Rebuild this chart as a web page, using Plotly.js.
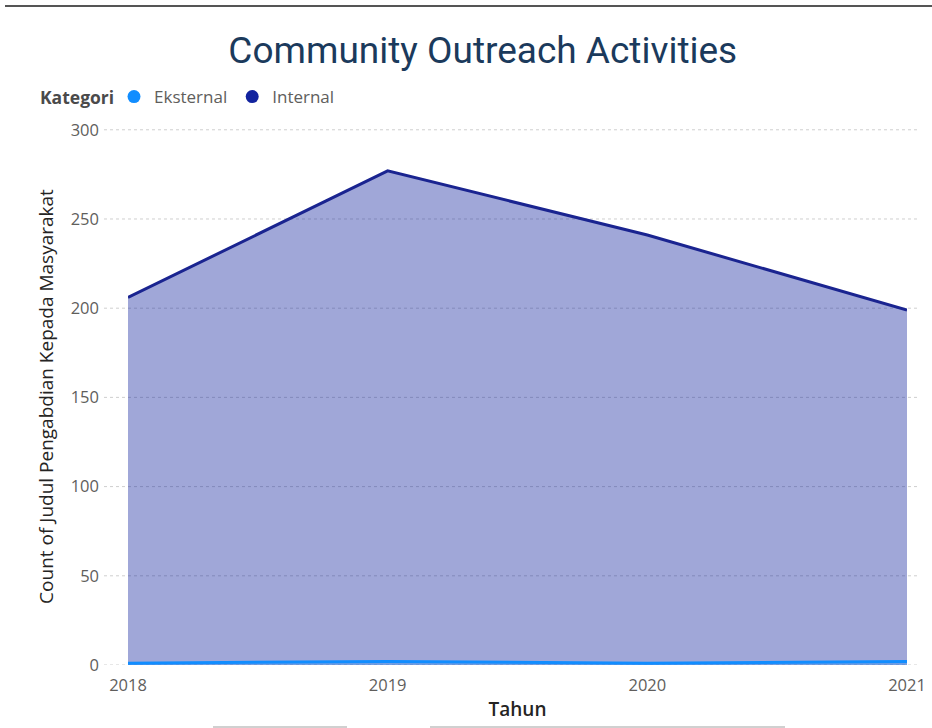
<!DOCTYPE html>
<html>
<head>
<meta charset="utf-8">
<script src="https://cdn.plot.ly/plotly-3.0.1.min.js"></script>
<style>html,body{margin:0;padding:0;background:#fff;}#chart{width:932px;height:728px;}</style>
</head>
<body>
<div id="chart"></div>
<script>
const years = [2018, 2019, 2020, 2021];
const internalCounts = [206, 277, 241, 199];
const eksternalCounts = [1, 2, 1, 2];
const seriesNames = ['Eksternal', 'Internal'];
const tickLabels = ['2018', '2019', '2020', '2021'];
const yTicks = [0, 50, 100, 150, 200, 250, 300];

const cInternal = '#12239E';
const cEksternal = '#118DFF';

const traces = [
  {x: years, y: internalCounts, type: 'scatter', mode: 'lines', fill: 'tozeroy',
   fillcolor: 'rgba(18,35,158,0.40)', line: {color: '#1A2490', width: 3},
   name: seriesNames[1], showlegend: false, hoverinfo: 'x+y'},
  {x: years, y: eksternalCounts, type: 'scatter', mode: 'lines', fill: 'tozeroy',
   fillcolor: 'rgba(17,141,255,0.30)', line: {color: cEksternal, width: 3},
   name: seriesNames[0], showlegend: false},
  {x: [null], y: [null], type: 'scatter', mode: 'markers', name: seriesNames[0],
   marker: {color: cEksternal, size: 13}},
  {x: [null], y: [null], type: 'scatter', mode: 'markers', name: seriesNames[1],
   marker: {color: cInternal, size: 13}}
];

const plotTop = 128, plotBottom = 665, plotLeft = 128, plotRight = 907;
const pY = px => (plotBottom - px) / (plotBottom - plotTop);
const pX = px => (px - plotLeft) / (plotRight - plotLeft);

const gridShapes = yTicks.map(v => ({
  type: 'line', xref: 'paper', yref: 'y', x0: pX(104), x1: pX(918), y0: v, y1: v,
  layer: 'below', line: {color: '#CFCFCF', width: 1, dash: 'dot'}
}));

const layout = {
  width: 932, height: 728,
  margin: {l: plotLeft, r: 932 - plotRight, t: plotTop, b: 728 - plotBottom},
  paper_bgcolor: '#fff', plot_bgcolor: 'rgba(0,0,0,0)',
  font: {family: 'Open Sans, Noto Sans, sans-serif', color: '#605E5C'},
  title: {text: 'Community Outreach Activities', x: 0.518, xanchor: 'center',
          y: 0.931, yanchor: 'middle',
          font: {family: 'Roboto, sans-serif', size: 37, weight: 400, color: '#1B3A5C'}},
  showlegend: true,
  legend: {orientation: 'h', x: pX(114), xanchor: 'left', y: pY(97), yanchor: 'middle',
           font: {size: 17, color: '#605E5C'}, itemwidth: 30, tracegroupgap: 0,
           bgcolor: 'rgba(0,0,0,0)'},
  annotations: [
    {text: '<b>Kategori</b>', xref: 'paper', yref: 'paper', x: pX(38), y: pY(97),
     xanchor: 'left', yanchor: 'middle', showarrow: false,
     font: {size: 17.5, color: '#4A4A4A'}}
  ],
  xaxis: {range: [2018, 2021], tickvals: years, ticktext: tickLabels,
          showgrid: false, zeroline: false, showline: false, ticks: '',
          ticklabelstandoff: 8,
          tickfont: {size: 16.5, color: '#605E5C'},
          title: {text: 'Tahun', font: {size: 19, weight: 600, color: '#252423'}, standoff: 8}},
  yaxis: {range: [0, 301], tickvals: yTicks, showgrid: false,
          zeroline: false, showline: false, ticks: '',
          ticklabelstandoff: 28,
          tickfont: {size: 16.5, color: '#605E5C'},
          title: {text: 'Count of Judul Pengabdian Kepada Masyarakat',
                  font: {size: 19, color: '#252423'}, standoff: 12}},
  shapes: gridShapes.concat([
    {type: 'line', xref: 'paper', yref: 'paper', x0: pX(5), x1: pX(932), y0: pY(6), y1: pY(6),
     line: {color: '#555', width: 2}},
    {type: 'line', xref: 'paper', yref: 'paper', x0: pX(213), x1: pX(347), y0: pY(727), y1: pY(727),
     line: {color: '#D0D0D0', width: 2}},
    {type: 'line', xref: 'paper', yref: 'paper', x0: pX(430), x1: pX(785), y0: pY(727), y1: pY(727),
     line: {color: '#D0D0D0', width: 2}}
  ])
};

Plotly.newPlot('chart', traces, layout, {displayModeBar: false, responsive: false});
</script>
</body>
</html>
